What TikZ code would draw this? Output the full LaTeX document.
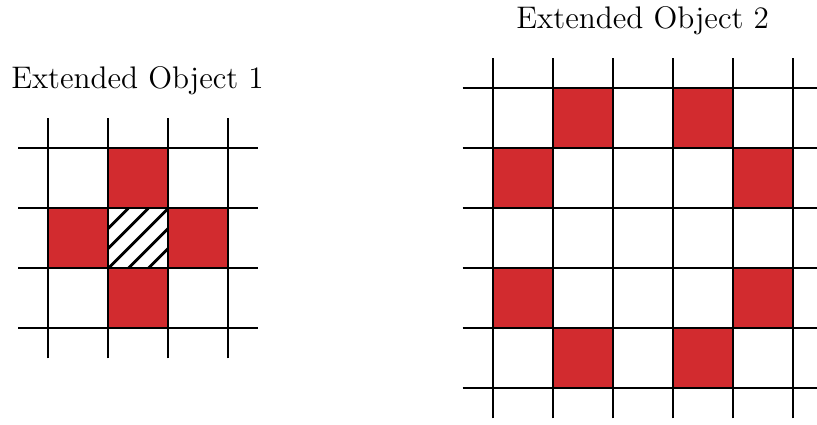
\documentclass[tikz,border=0pt]{standalone}
\usepackage{xcolor}
\usetikzlibrary{positioning}
\definecolor{cellred}{HTML}{D22B2F}
\tikzset{
  gridline/.style={line width=1pt, draw=black},
  redcell/.style={fill=cellred},
  hatchline/.style={line width=1.3pt, draw=black},
  title/.style={font=\fontsize{14.8}{17}\selectfont, anchor=base, inner sep=0pt},
}

\begin{document}
\begin{tikzpicture}
  \clip (0,0) rectangle (13.617,-7.067);

  % object 1: 3x3 grid
  \begin{scope}[shift={(0.805,-5.472)}]
    \foreach \x/\y in {1/2, 0/1, 2/1, 1/0}
      \fill[redcell] (\x,\y) rectangle ++(1,1);
    \begin{scope}
      \clip (1,1) rectangle (2,2);
      \foreach \d in {-2,...,2}
        \draw[hatchline] (1+\d/3,1) -- ++(1,1);
    \end{scope}
    \foreach \k in {0,...,3} {
      \draw[gridline] (\k,-0.5) -- (\k,3.5);
      \draw[gridline] (-0.5,\k) -- (3.5,\k);
    }
  \end{scope}
  \node[title] (obj1) at (2.292,-1.483) {Extended Object 1};

  % object 2: 5x5 grid
  \begin{scope}[shift={(8.212,-6.472)}]
    \foreach \x/\y in {1/4, 3/4, 0/3, 4/3, 0/1, 4/1, 1/0, 3/0}
      \fill[redcell] (\x,\y) rectangle ++(1,1);
    \foreach \k in {0,...,5} {
      \draw[gridline] (\k,-0.5) -- (\k,5.5);
      \draw[gridline] (-0.5,\k) -- (5.5,\k);
    }
  \end{scope}
  \node[title] (obj2) at (10.712,-0.472) {Extended Object 2};
\end{tikzpicture}
\end{document}
